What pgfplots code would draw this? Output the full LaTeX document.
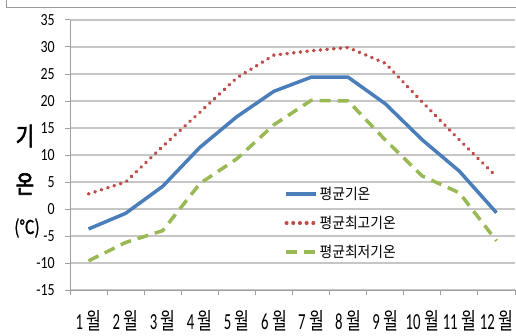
\documentclass[border=0pt]{standalone}
\usepackage{pgfplots}
\pgfplotsset{compat=1.18}
\usepackage{fontspec}
\setmainfont{Carlito}
\newfontfamily\krx[FakeStretch=0.7]{Noto Sans CJK KR}
\newfontfamily\krl[FakeStretch=0.92]{Noto Sans CJK KR}
\newfontfamily\krb[FakeStretch=0.8,FakeBold=2.5]{Noto Sans CJK KR}
\newfontfamily\krm[FakeStretch=0.8,FakeBold=1]{Noto Sans CJK KR}
\newfontfamily\numx[FakeStretch=0.64]{Carlito}
\newfontfamily\numy[FakeStretch=0.82]{Carlito}
\definecolor{cblue}{RGB}{74,126,187}
\definecolor{cred}{RGB}{190,75,72}
\definecolor{cgreen}{RGB}{152,185,84}
\newcommand\mo[1]{{\numx #1}\hspace{3.5bp}{\krx 월}}
\begin{document}
\begin{tikzpicture}[x=1bp,y=1bp]
\useasboundingbox (0,0) rectangle (516,335);
\draw[gray!80, line width=1bp] (6,335) -- (6,327) -- (516,327);
\begin{axis}[
  at={(70bp,45bp)}, anchor=south west, scale only axis,
  width=445bp, height=270bp,
  xmin=0.5, xmax=12.5, ymin=-15, ymax=35,
  ytick={-15,-10,...,35},
  xtick={1,...,12},
  xticklabels={\mo{1},\mo{2},\mo{3},\mo{4},\mo{5},\mo{6},\mo{7},\mo{8},\mo{9},\mo{10},\mo{11},\mo{12}},
  minor xtick={0.5,1.5,...,12.5},
  axis lines*=left,
  axis line style={draw=gray!75, line width=1bp},
  tick style={draw=gray!75, line width=1bp},
  major x tick style={draw=none},
  major tick length=5bp, minor tick length=5bp,
  tick align=outside,
  ymajorgrids,
  major grid style={draw=gray!45, line width=1.2bp},
  /pgf/number format/assume math mode=true,
  yticklabel style={font=\fontsize{17bp}{18bp}\selectfont\numy, inner sep=0pt, xshift=-10bp},
  xticklabel style={font=\fontsize{23bp}{24bp}\selectfont, inner sep=0pt, yshift=-15bp},
  legend entries={평균기온, 평균최고기온, 평균최저기온},
  legend cell align=left,
  legend image code/.code={\draw[#1] (0bp,0bp) -- (30bp,0bp);},
  legend style={font=\fontsize{15bp}{16bp}\selectfont\krl, draw=none, fill=none,
    at={(axis cs:6.28,4.35)}, anchor=north west, inner sep=0pt,
    nodes={inner sep=1.5bp}, row sep=12bp},
]
\addplot[cblue, line width=3.5bp] coordinates {
 (1,-3.7) (2,-0.8) (3,4.2) (4,11.4) (5,17.1) (6,21.8) (7,24.4) (8,24.4) (9,19.5) (10,12.8) (11,7.0) (12,-0.7)};
\addplot[cred, line width=3.6bp, dash pattern=on 0.4bp off 6.3bp, line cap=round] coordinates {
 (1,2.8) (2,5.0) (3,11.6) (4,17.9) (5,24.3) (6,28.5) (7,29.3) (8,29.9) (9,27.0) (10,19.8) (11,12.8) (12,6.0)};
\addplot[cgreen, line width=3.5bp, dash pattern=on 11bp off 7bp] coordinates {
 (1,-9.6) (2,-6.2) (3,-4.0) (4,4.7) (5,9.3) (6,15.6) (7,20.1) (8,20.0) (9,12.8) (10,6.1) (11,3.0) (12,-5.9)};
\end{axis}
\node[font=\fontsize{25bp}{26bp}\selectfont\krb] at (25,199) {기};
\node[font=\fontsize{25bp}{26bp}\selectfont\krb] at (25,151) {온};
\node[font=\fontsize{19bp}{22bp}\selectfont\krm] at (27,107) {(℃)};
\end{tikzpicture}
\end{document}
